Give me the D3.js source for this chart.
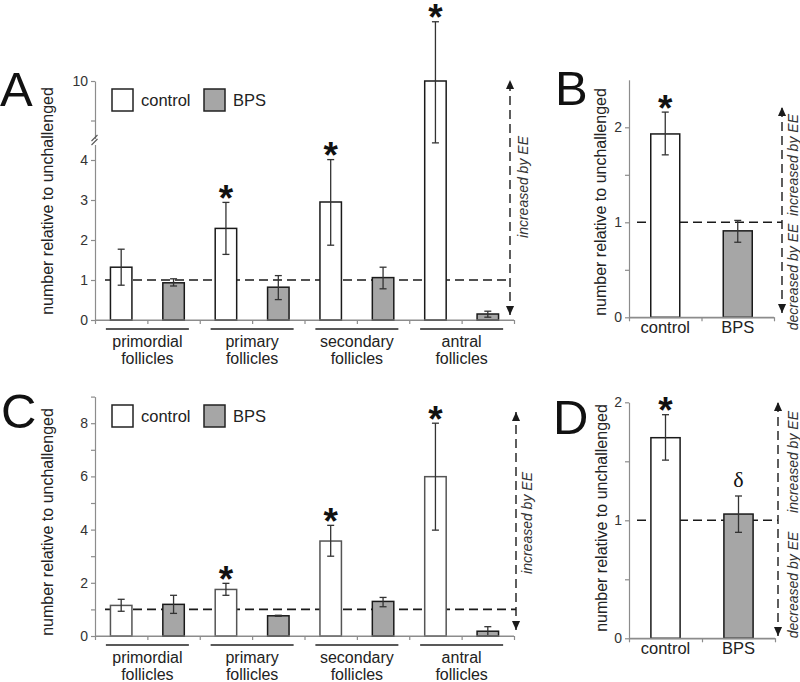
<!DOCTYPE html>
<html><head><meta charset="utf-8">
<script src="https://cdn.jsdelivr.net/npm/d3@7/dist/d3.min.js"></script>
<style>body{margin:0;background:#fff}svg{display:block}</style>
</head><body>
<script>
// ---------- data ----------
const categories = ["primordial follicles", "primary follicles", "secondary follicles", "antral follicles"];
const series = ["control", "BPS"];
// Panel A
const aControl = [1.32, 2.29, 2.95, 10.0];
const aControlLo = [0.87, 1.64, 1.87, 5.3];
const aControlHi = [1.77, 2.94, 4.03, 14.5];
const aBPS = [0.93, 0.82, 1.06, 0.15];
const aBPSLo = [0.85, 0.51, 0.78, 0.07];
const aBPSHi = [1.03, 1.11, 1.32, 0.22];
const aSig = ["", "*", "*", "*"];
const aTicks = [0, 1, 2, 3, 4, 7, 10];
const aTickLabels = [0, 1, 2, 3, 4, 10];
// Panel B
const bValues = [1.93, 0.91];
const bLo = [1.71, 0.79];
const bHi = [2.16, 1.02];
const bSig = ["*", ""];
const bTicks = [0, 0.5, 1, 1.5, 2];
const bTickLabels = [0, 1, 2];
// Panel C
const cControl = [1.15, 1.75, 3.57, 5.99];
const cControlLo = [0.93, 1.53, 3.0, 3.98];
const cControlHi = [1.38, 1.98, 4.16, 8.0];
const cBPS = [1.19, 0.76, 1.30, 0.18];
const cBPSLo = [0.85, 0.74, 1.10, 0.0];
const cBPSHi = [1.53, 0.78, 1.45, 0.35];
const cSig = ["", "*", "*", "*"];
const cTicks = [0, 1, 2, 3, 4, 5, 6, 7, 8, 9];
const cTickLabels = [0, 2, 4, 6, 8];
// Panel D
const dValues = [1.70, 1.053];
const dLo = [1.51, 0.898];
const dHi = [1.895, 1.206];
const dSig = ["*", "δ"];
const dTicks = [0, 0.5, 1, 1.5, 2];
const dTickLabels = [0, 1, 2];

const yTitle = "number relative to unchallenged";
const upText = "increased by EE";
const downText = "decreased by EE";

// ---------- styles ----------
const fillOf = {control: "#ffffff", BPS: "#a6a6a6"};
const ink = "#1a1a1a";
const axisCol = "#8c8c8c";
const FONT = "'Liberation Sans', Arial, Helvetica, Roboto, sans-serif";

const svg = d3.select("body").append("svg").attr("width", 800).attr("height", 682);
const defs = svg.append("defs");
defs.append("marker").attr("id", "ah").attr("viewBox", "0 -5 10 10")
  .attr("refX", 10).attr("refY", 0).attr("markerWidth", 9).attr("markerHeight", 9)
  .attr("markerUnits", "userSpaceOnUse").attr("orient", "auto-start-reverse")
  .append("path").attr("d", "M0,-4.5L10,0L0,4.5Z").attr("fill", ink);

function letter(t, x, y) {
  svg.append("text").attr("x", x).attr("y", y).text(t)
    .attr("font-size", 49).attr("fill", "#111");
}
function yLabel(x, y) {
  svg.append("text").attr("transform", `translate(${x},${y}) rotate(-90)`)
    .attr("text-anchor", "middle").attr("dominant-baseline", "central")
    .attr("font-size", 16).attr("fill", "#222").text(yTitle);
}
function rotText(t, x, y) {
  svg.append("text").attr("transform", `translate(${x},${y}) rotate(-90)`)
    .attr("text-anchor", "middle").attr("dominant-baseline", "central")
    .attr("font-size", 14).attr("font-style", "italic").attr("fill", "#333").text(t);
}
function yAxis(y, x, ticks, labels) {
  const g = svg.append("g").attr("transform", `translate(${x},0)`)
    .call(d3.axisLeft(y).tickValues(ticks).tickSize(4).tickSizeOuter(0).tickPadding(3)
      .tickFormat(d => labels.includes(d) ? d : ""));
  g.select(".domain").attr("stroke", axisCol).attr("stroke-width", 1.2);
  g.selectAll(".tick line").attr("stroke", axisCol).attr("stroke-width", 1.2);
  g.selectAll(".tick text").attr("fill", "#333").attr("font-size", 14);
  return g;
}
function xAxisIdx(y0, left, right, n) {
  const idx = d3.scaleLinear().domain([0, n]).range([left, right]);
  const g = svg.append("g").attr("transform", `translate(0,${y0})`)
    .call(d3.axisBottom(idx).tickValues(d3.range(n + 1)).tickSize(4).tickSizeOuter(0).tickFormat(""));
  g.select(".domain").attr("stroke", axisCol).attr("stroke-width", 1.2);
  g.selectAll(".tick line").attr("stroke", axisCol).attr("stroke-width", 1.2);
}
function bar(cx, w, y, v, lo, hi, s, stroke) {
  svg.append("rect").attr("x", cx - w / 2).attr("y", y(v)).attr("width", w)
    .attr("height", y(0) - y(v)).attr("fill", fillOf[s]).attr("stroke", stroke || ink).attr("stroke-width", 1.5);
  const eg = svg.append("g").attr("stroke", "#333").attr("stroke-width", 1.3);
  eg.append("line").attr("x1", cx).attr("x2", cx).attr("y1", y(lo)).attr("y2", y(hi));
  eg.append("line").attr("x1", cx - 3.5).attr("x2", cx + 3.5).attr("y1", y(lo)).attr("y2", y(lo));
  eg.append("line").attr("x1", cx - 3.5).attr("x2", cx + 3.5).attr("y1", y(hi)).attr("y2", y(hi));
}
function mark(sym, cx, yTop) {
  if (!sym) return;
  if (sym === "*") {
    svg.append("text").attr("x", cx).attr("y", Math.max(yTop - 12.5 + 21, 28)).attr("text-anchor", "middle")
      .attr("font-size", 37).attr("font-weight", "bold").attr("fill", "#111").text(sym);
  } else {
    svg.append("text").attr("x", cx).attr("y", yTop - 16 + 7).attr("text-anchor", "middle")
      .attr("class", "serif").attr("font-size", 22).attr("fill", "#111").text(sym);
  }
}
function refLine(y, x1, x2) {
  svg.append("line").attr("x1", x1).attr("x2", x2).attr("y1", y(1)).attr("y2", y(1))
    .attr("stroke", ink).attr("stroke-width", 1.6).attr("stroke-dasharray", "9,5");
}
function vArrow(x, yTop, yBot) {
  svg.append("line").attr("x1", x).attr("x2", x).attr("y1", yBot).attr("y2", yTop)
    .attr("stroke", ink).attr("stroke-width", 1.4).attr("stroke-dasharray", "9,5")
    .attr("marker-start", "url(#ah)").attr("marker-end", "url(#ah)");
}
function legend(x, y) {
  const items = [{s: "control", x: x}, {s: "BPS", x: x + 92}];
  items.forEach(it => {
    svg.append("rect").attr("x", it.x).attr("y", y).attr("width", 21).attr("height", 22)
      .attr("fill", fillOf[it.s]).attr("stroke", "#222").attr("stroke-width", 1.5);
    svg.append("text").attr("x", it.x + 29).attr("y", y + 17).attr("font-size", 16.5).attr("fill", "#222").text(it.s);
  });
}

function groupedPanel(o) {
  const x = d3.scaleBand().domain(categories).range([o.left, o.right]);
  const xs = d3.scaleBand().domain(series).range([0, x.bandwidth()]);
  const w = xs.bandwidth() * 0.41;
  const y = o.y;
  yAxis(y, o.left, o.ticks, o.labels);
  xAxisIdx(y(0), o.left, o.right, categories.length * series.length);
  refLine(y, o.left + 10, o.arrowX);
  categories.forEach((c, i) => {
    series.forEach(s => {
      const cx = x(c) + xs(s) + xs.bandwidth() / 2;
      if (s === "control") {
        bar(cx, w, y, o.ctrl[i], o.ctrlLo[i], o.ctrlHi[i], s, o.ctrlStroke);
        mark(o.sig[i], cx, y(o.ctrlHi[i]));
      } else {
        bar(cx, w, y, o.bps[i], o.bpsLo[i], o.bpsHi[i], s);
      }
    });
    const gc = x(c) + x.bandwidth() / 2;
    svg.append("line").attr("x1", gc - 41.5).attr("x2", gc + 41.5)
      .attr("y1", y(0) + o.lineOff).attr("y2", y(0) + o.lineOff).attr("stroke", "#222").attr("stroke-width", 1.5);
    const words = c.split(" ");
    words.forEach((wd, k) => {
      svg.append("text").attr("x", gc).attr("y", y(0) + o.lineOff + 17.5 + k * 17.5)
        .attr("text-anchor", "middle").attr("font-size", 16).attr("fill", "#222").text(wd);
    });
  });
  svg.append("line").attr("x1", o.left).attr("x2", o.right).attr("y1", y(0)).attr("y2", y(0))
    .attr("stroke", axisCol).attr("stroke-width", 1.2);
  vArrow(o.arrowX, o.arrowTop, o.arrowBot);
  return {x, xs, y};
}

function pairPanel(o) {
  const x = d3.scaleBand().domain(series).range([o.left, o.right]);
  const y = o.y;
  yAxis(y, o.left, o.ticks, o.labels);
  xAxisIdx(y(0), o.left, o.right, 2);
  refLine(y, o.left + 8, o.arrowX);
  const w = x.bandwidth() * 0.4;
  series.forEach((s, i) => {
    const cx = x(s) + x.bandwidth() / 2;
    bar(cx, w, y, o.vals[i], o.lo[i], o.hi[i], s);
    mark(o.sig[i], cx, y(o.hi[i]));
    svg.append("text").attr("x", cx).attr("y", y(0) + 16).attr("text-anchor", "middle")
      .attr("font-size", 16.5).attr("fill", "#222").text(s);
  });
  svg.append("line").attr("x1", o.left).attr("x2", o.right).attr("y1", y(0)).attr("y2", y(0))
    .attr("stroke", axisCol).attr("stroke-width", 1.2);
  vArrow(o.arrowX, o.arrowTop, o.arrowBot);
  rotText(upText, o.textX, o.upY);
  rotText(downText, o.textX, o.downY);
}

// ---------- Panel A ----------
const yA = d3.scaleLinear().domain([0, 4, 10]).range([320, 160, 81]);
groupedPanel({y: yA, left: 95, right: 514, ticks: aTicks, labels: aTickLabels,
  ctrl: aControl, ctrlLo: aControlLo, ctrlHi: aControlHi, bps: aBPS, bpsLo: aBPSLo, bpsHi: aBPSHi,
  sig: aSig, arrowX: 510, arrowTop: 80, arrowBot: 315, lineOff: 9});
svg.append("rect").attr("x", 92).attr("y", 139).attr("width", 6).attr("height", 6).attr("fill", "#fff");
[0, 4].forEach(d => {
  svg.append("line").attr("x1", 91.5).attr("x2", 97.5).attr("y1", 143 + d - 2).attr("y2", 135 + d)
    .attr("stroke", "#555").attr("stroke-width", 1.1);
});
legend(112, 89);
letter("A", 0, 106);
yLabel(47, 201);
rotText(upText, 523, 187);

// ---------- Panel B ----------
const yB = d3.scaleLinear().domain([0, 2.5]).range([317.3, 79.8]);
pairPanel({y: yB, left: 629, right: 774, ticks: bTicks, labels: bTickLabels,
  vals: bValues, lo: bLo, hi: bHi, sig: bSig, arrowX: 782, arrowTop: 107, arrowBot: 313,
  textX: 793, upY: 165, downY: 277});
letter("B", 555, 105);
yLabel(600, 202);

// ---------- Panel C ----------
const yC = d3.scaleLinear().domain([0, 9]).range([636, 396.6]);
groupedPanel({y: yC, left: 95, right: 514, ticks: cTicks, labels: cTickLabels,
  ctrl: cControl, ctrlLo: cControlLo, ctrlHi: cControlHi, bps: cBPS, bpsLo: cBPSLo, bpsHi: cBPSHi,
  sig: cSig, arrowX: 516, arrowTop: 412, arrowBot: 630, lineOff: 9, ctrlStroke: "#555"});
legend(112, 405);
letter("C", 1, 428);
yLabel(47, 522);
rotText(upText, 527, 523);

// ---------- Panel D ----------
const yD = d3.scaleLinear().domain([0, 2]).range([638.3, 402.3]);
pairPanel({y: yD, left: 629, right: 775, ticks: dTicks, labels: dTickLabels,
  vals: dValues, lo: dLo, hi: dHi, sig: dSig, arrowX: 778, arrowTop: 402, arrowBot: 636,
  textX: 793, upY: 462, downY: 585});
letter("D", 553, 434);
yLabel(601, 518);

// fonts on every text
svg.selectAll("text").style("font-family", FONT);
svg.selectAll("text.serif").style("font-family", "'Liberation Serif', 'DejaVu Serif', serif");
</script>
</body></html>
